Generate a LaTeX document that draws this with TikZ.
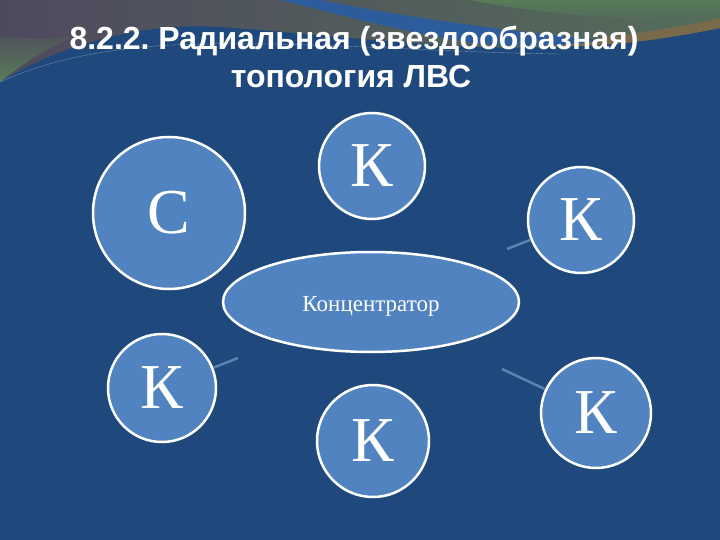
\documentclass[tikz,border=0pt]{standalone}
\usepackage{fontspec}
\setmainfont{Liberation Serif}
\setsansfont{Liberation Sans}
\usepackage{tikz}
\usetikzlibrary{shapes, positioning, backgrounds}

\definecolor{bgblue}{HTML}{1F497D}
\definecolor{nodeblue}{HTML}{5083C0}
\definecolor{stubblue}{HTML}{5B82B5}
\definecolor{topvio}{HTML}{4E4A5E}
\definecolor{topgrn}{HTML}{587C58}
\definecolor{topbrn}{HTML}{7A6A4C}
\definecolor{swoosh}{HTML}{2D5C9C}

\begin{document}
\frenchspacing
\begin{tikzpicture}[x=1pt, y=-1pt, semithick]
\tikzstyle{station}=[circle, draw=white, line width=2.5pt, fill=nodeblue, text=white, inner sep=0pt, font=\fontsize{64}{64}\selectfont]
\tikzstyle{hub}=[ellipse, draw=white, line width=2.5pt, fill=nodeblue, text=white, inner sep=0pt, minimum width=296, minimum height=100, text height=23pt, font=\fontsize{23}{23}\selectfont]
\tikzstyle{stub}=[draw=stubblue, line width=2.5pt]
\tikzstyle{heading}=[text=white, anchor=base, inner sep=0pt, font=\sffamily\bfseries\fontsize{32}{38}\selectfont]
\useasboundingbox (0,0) rectangle (720,540);

% background and top band
\fill[bgblue] (0,0) rectangle (720,540);
\shade[left color=topvio, right color=topgrn!70!topvio] (0,0) -- (720,0) -- (720,28) .. controls (650,42) and (560,50) .. (480,47) .. controls (400,44) and (320,34) .. (220,27) .. controls (140,22) and (60,45) .. (0,82) -- cycle;
\shade[top color=topvio, bottom color=topgrn] (0,36) .. controls (50,42) and (90,36) .. (130,24) .. controls (80,28) and (40,50) .. (0,82) -- cycle;
\shade[top color=topgrn, bottom color=topgrn!60!topvio] (470,0) -- (720,0) -- (720,18) .. controls (660,22) and (560,18) .. (470,0) -- cycle;
\fill[topbrn] (530,46) .. controls (610,38) and (680,28) .. (720,18) -- (720,28) .. controls (650,42) and (600,48) .. (530,46) -- cycle;
\fill[swoosh] (280,0) -- (320,0) .. controls (410,18) and (500,30) .. (600,40) .. controls (560,48) and (520,46) .. (480,44) .. controls (390,30) and (340,14) .. (280,0) -- cycle;
\draw[white, opacity=.35, thin] (0,82) .. controls (40,64) and (90,50) .. (170,45) .. controls (300,40) and (420,52) .. (560,54);

\node[heading] (title) at (354,50) {8.2.2. Радиальная (звездообразная)};
\node[heading] (subtitle) at (351,88) {топология ЛВС};

\node[hub]     (H)  at (371,302) {Концентратор};
\node[station, minimum size=152] (C)  at (169,213) {С};
\node[station, minimum size=106] (K1) at (372,166) {К};
\node[station, minimum size=106] (K2) at (581,220) {К};
\node[station, minimum size=108] (K3) at (162,388) {К};
\node[station, minimum size=112] (K4) at (373,441) {К};
\node[station, minimum size=110] (K5) at (596,413) {К};

\coordinate (s2) at (507,249);
\coordinate (s3) at (238,358);
\coordinate (s5) at (502,369);

\path
(s2) edge[stub] (K2)
(s3) edge[stub] (K3)
(s5) edge[stub] (K5);

\end{tikzpicture}
\end{document}
